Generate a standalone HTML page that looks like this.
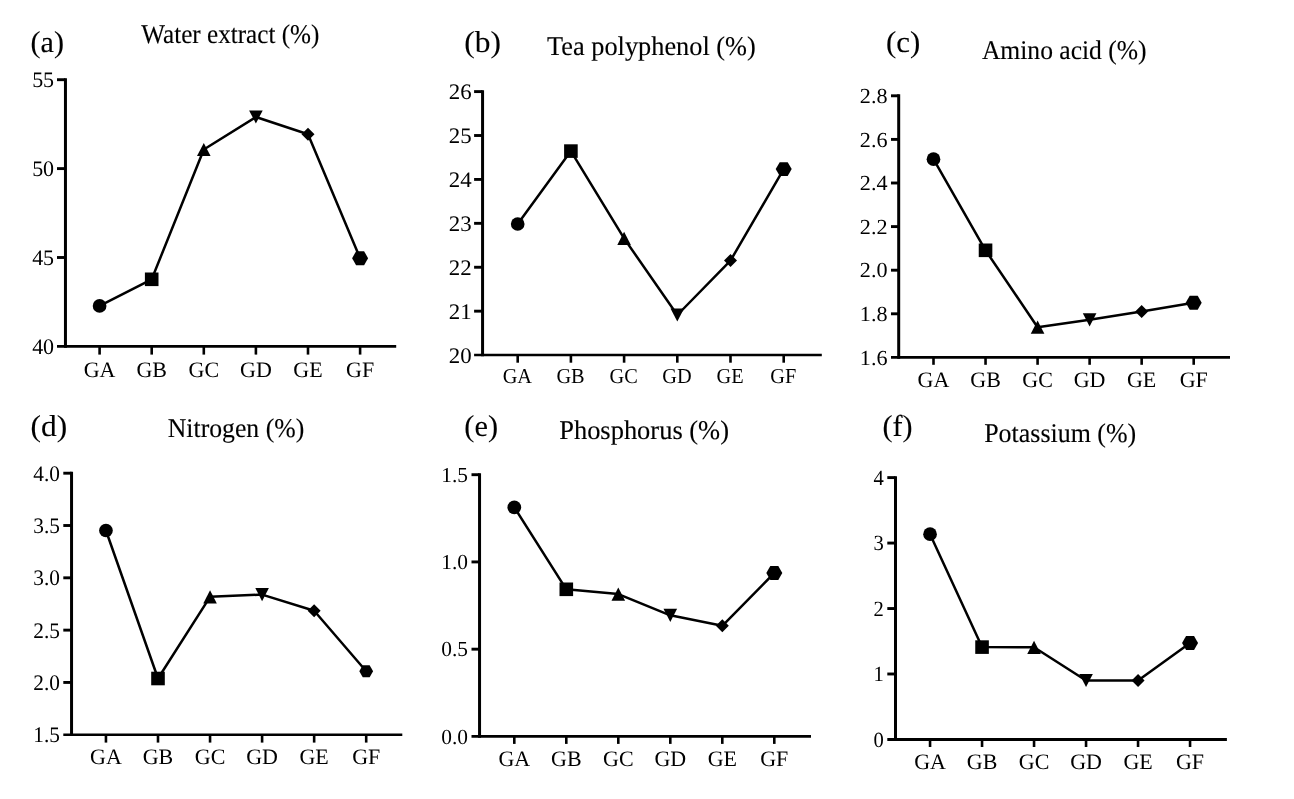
<!DOCTYPE html>
<html lang="en">
<head>
<meta charset="utf-8">
<title>Figure: tea quality components</title>
<style>
html,body{margin:0;padding:0;background:#fff;}
body{width:1294px;height:799px;overflow:hidden;}
svg{display:block;}
text{font-family:"Liberation Serif", "Times New Roman", Times, serif;fill:#000;text-rendering:geometricPrecision;}
.ln{stroke:#000;stroke-width:2.5;fill:none;stroke-linejoin:round;}
.tt,.pl{stroke:#000;stroke-width:0.12px;}
.yl{text-anchor:end;}
.xl{text-anchor:middle;}
</style>
</head>
<body>
<svg width="1294" height="799" viewBox="0 0 1294 799">
<rect width="1294" height="799" fill="#fff"/>
<g id="panel-a">
<path d="M65.46,78.25 V347.86" stroke="#000" stroke-width="3.0" fill="none"/>
<path d="M57,346.4 H396.2" stroke="#000" stroke-width="2.92" fill="none"/>
<text class="yl" transform="translate(54.1,353.9) scale(0.99,1)" font-size="22.2">40</text>
<path d="M57,257.5 H65.46" stroke="#000" stroke-width="2.9" fill="none"/>
<text class="yl" transform="translate(54.1,265) scale(0.99,1)" font-size="22.2">45</text>
<path d="M57,168.6 H65.46" stroke="#000" stroke-width="2.9" fill="none"/>
<text class="yl" transform="translate(54.1,176.1) scale(0.99,1)" font-size="22.2">50</text>
<path d="M57,79.7 H65.46" stroke="#000" stroke-width="2.9" fill="none"/>
<text class="yl" transform="translate(54.1,87.2) scale(0.99,1)" font-size="22.2">55</text>
<path d="M99.6,346.4 V354.6" stroke="#000" stroke-width="2.6" fill="none"/>
<text class="xl" x="99.6" y="377.2" font-size="22.0">GA</text>
<path d="M151.7,346.4 V354.6" stroke="#000" stroke-width="2.6" fill="none"/>
<text class="xl" x="151.7" y="377.2" font-size="22.0">GB</text>
<path d="M203.8,346.4 V354.6" stroke="#000" stroke-width="2.6" fill="none"/>
<text class="xl" x="203.8" y="377.2" font-size="22.0">GC</text>
<path d="M255.9,346.4 V354.6" stroke="#000" stroke-width="2.6" fill="none"/>
<text class="xl" x="255.9" y="377.2" font-size="22.0">GD</text>
<path d="M308,346.4 V354.6" stroke="#000" stroke-width="2.6" fill="none"/>
<text class="xl" x="308" y="377.2" font-size="22.0">GE</text>
<path d="M360.1,346.4 V354.6" stroke="#000" stroke-width="2.6" fill="none"/>
<text class="xl" x="360.1" y="377.2" font-size="22.0">GF</text>
<polyline class="ln" points="99.6,305.9 151.7,279.3 203.8,149.5 255.9,117 308,134.2 360.1,258.2"/>
<circle cx="99.6" cy="305.9" r="6.85"/>
<rect x="144.9" y="272.5" width="13.6" height="13.6"/>
<polygon points="203.8,142.9 210.6,156.1 197,156.1"/>
<polygon points="255.9,123.6 262.7,110.4 249.1,110.4"/>
<polygon points="308,127.7 314.5,134.2 308,140.7 301.5,134.2"/>
<polygon points="368.1,258.2 364.1,265.13 356.1,265.13 352.1,258.2 356.1,251.27 364.1,251.27"/>
<text class="tt" transform="translate(141.33,42.7) scale(0.9312,1)" font-size="27">Water extract (%)</text>
<text class="pl" transform="translate(30.54,51.5) scale(0.995,1)" font-size="30.3">(a)</text>
</g>
<g id="panel-b">
<path d="M482.57,90.15 V356.32" stroke="#000" stroke-width="3.0" fill="none"/>
<path d="M474.1,355.07 H821.8" stroke="#000" stroke-width="2.5" fill="none"/>
<text class="yl" transform="translate(471.6,362.57) scale(1.03,1)" font-size="22.2">20</text>
<path d="M474.1,311.16 H482.57" stroke="#000" stroke-width="2.9" fill="none"/>
<text class="yl" transform="translate(471.6,318.66) scale(1.03,1)" font-size="22.2">21</text>
<path d="M474.1,267.25 H482.57" stroke="#000" stroke-width="2.9" fill="none"/>
<text class="yl" transform="translate(471.6,274.75) scale(1.03,1)" font-size="22.2">22</text>
<path d="M474.1,223.33 H482.57" stroke="#000" stroke-width="2.9" fill="none"/>
<text class="yl" transform="translate(471.6,230.84) scale(1.03,1)" font-size="22.2">23</text>
<path d="M474.1,179.42 H482.57" stroke="#000" stroke-width="2.9" fill="none"/>
<text class="yl" transform="translate(471.6,186.93) scale(1.03,1)" font-size="22.2">24</text>
<path d="M474.1,135.51 H482.57" stroke="#000" stroke-width="2.9" fill="none"/>
<text class="yl" transform="translate(471.6,143.02) scale(1.03,1)" font-size="22.2">25</text>
<path d="M474.1,91.6 H482.57" stroke="#000" stroke-width="2.9" fill="none"/>
<text class="yl" transform="translate(471.6,99.1) scale(1.03,1)" font-size="22.2">26</text>
<path d="M517.7,355.07 V362.7" stroke="#000" stroke-width="2.6" fill="none"/>
<text class="xl" transform="translate(517.3,383.3) scale(0.954,1)" font-size="21.3">GA</text>
<path d="M570.9,355.07 V362.7" stroke="#000" stroke-width="2.6" fill="none"/>
<text class="xl" transform="translate(570.5,383.3) scale(0.954,1)" font-size="21.3">GB</text>
<path d="M624.1,355.07 V362.7" stroke="#000" stroke-width="2.6" fill="none"/>
<text class="xl" transform="translate(623.7,383.3) scale(0.954,1)" font-size="21.3">GC</text>
<path d="M677.3,355.07 V362.7" stroke="#000" stroke-width="2.6" fill="none"/>
<text class="xl" transform="translate(676.9,383.3) scale(0.954,1)" font-size="21.3">GD</text>
<path d="M730.5,355.07 V362.7" stroke="#000" stroke-width="2.6" fill="none"/>
<text class="xl" transform="translate(730.1,383.3) scale(0.954,1)" font-size="21.3">GE</text>
<path d="M783.7,355.07 V362.7" stroke="#000" stroke-width="2.6" fill="none"/>
<text class="xl" transform="translate(783.3,383.3) scale(0.954,1)" font-size="21.3">GF</text>
<polyline class="ln" points="517.7,224 570.9,151.1 624.1,238.4 677.3,315 730.5,260.6 783.7,169.1"/>
<circle cx="517.7" cy="224" r="6.85"/>
<rect x="564.1" y="144.3" width="13.6" height="13.6"/>
<polygon points="624.1,231.8 630.9,245 617.3,245"/>
<polygon points="677.3,321.6 684.1,308.4 670.5,308.4"/>
<polygon points="730.5,254.1 737,260.6 730.5,267.1 724,260.6"/>
<polygon points="791.7,169.1 787.7,176.03 779.7,176.03 775.7,169.1 779.7,162.17 787.7,162.17"/>
<text class="tt" transform="translate(547.12,54.8) scale(0.9747,1)" font-size="27">Tea polyphenol (%)</text>
<text class="pl" transform="translate(464.28,51.5) scale(1.0369,1)" font-size="30.3">(b)</text>
</g>
<g id="panel-c">
<path d="M898.7,94.35 V358.8" stroke="#000" stroke-width="3.0" fill="none"/>
<path d="M891,357.4 H1230" stroke="#000" stroke-width="2.8" fill="none"/>
<text class="yl" transform="translate(887.5,364.67) scale(1.03,1)" font-size="21.5">1.6</text>
<path d="M891,313.8 H898.7" stroke="#000" stroke-width="2.9" fill="none"/>
<text class="yl" transform="translate(887.5,321.07) scale(1.03,1)" font-size="21.5">1.8</text>
<path d="M891,270.2 H898.7" stroke="#000" stroke-width="2.9" fill="none"/>
<text class="yl" transform="translate(887.5,277.47) scale(1.03,1)" font-size="21.5">2.0</text>
<path d="M891,226.6 H898.7" stroke="#000" stroke-width="2.9" fill="none"/>
<text class="yl" transform="translate(887.5,233.87) scale(1.03,1)" font-size="21.5">2.2</text>
<path d="M891,183 H898.7" stroke="#000" stroke-width="2.9" fill="none"/>
<text class="yl" transform="translate(887.5,190.27) scale(1.03,1)" font-size="21.5">2.4</text>
<path d="M891,139.4 H898.7" stroke="#000" stroke-width="2.9" fill="none"/>
<text class="yl" transform="translate(887.5,146.67) scale(1.03,1)" font-size="21.5">2.6</text>
<path d="M891,95.8 H898.7" stroke="#000" stroke-width="2.9" fill="none"/>
<text class="yl" transform="translate(887.5,103.07) scale(1.03,1)" font-size="21.5">2.8</text>
<path d="M933.5,357.4 V364.8" stroke="#000" stroke-width="2.6" fill="none"/>
<text class="xl" x="933.5" y="387.1" font-size="22.0">GA</text>
<path d="M985.54,357.4 V364.8" stroke="#000" stroke-width="2.6" fill="none"/>
<text class="xl" x="985.54" y="387.1" font-size="22.0">GB</text>
<path d="M1037.58,357.4 V364.8" stroke="#000" stroke-width="2.6" fill="none"/>
<text class="xl" x="1037.58" y="387.1" font-size="22.0">GC</text>
<path d="M1089.62,357.4 V364.8" stroke="#000" stroke-width="2.6" fill="none"/>
<text class="xl" x="1089.62" y="387.1" font-size="22.0">GD</text>
<path d="M1141.66,357.4 V364.8" stroke="#000" stroke-width="2.6" fill="none"/>
<text class="xl" x="1141.66" y="387.1" font-size="22.0">GE</text>
<path d="M1193.7,357.4 V364.8" stroke="#000" stroke-width="2.6" fill="none"/>
<text class="xl" x="1193.7" y="387.1" font-size="22.0">GF</text>
<polyline class="ln" points="933.5,159.2 985.54,250.3 1037.58,327.2 1089.62,319.8 1141.66,311.4 1193.7,302.8"/>
<circle cx="933.5" cy="159.2" r="6.85"/>
<rect x="978.74" y="243.5" width="13.6" height="13.6"/>
<polygon points="1037.58,320.6 1044.38,333.8 1030.78,333.8"/>
<polygon points="1089.62,326.4 1096.42,313.2 1082.82,313.2"/>
<polygon points="1141.66,304.9 1148.16,311.4 1141.66,317.9 1135.16,311.4"/>
<polygon points="1201.7,302.8 1197.7,309.73 1189.7,309.73 1185.7,302.8 1189.7,295.87 1197.7,295.87"/>
<text class="tt" transform="translate(981.89,59.2) scale(0.947,1)" font-size="27">Amino acid (%)</text>
<text class="pl" transform="translate(885.91,51.5) scale(1.0209,1)" font-size="30.3">(c)</text>
</g>
<g id="panel-d">
<path d="M71.55,471.75 V736" stroke="#000" stroke-width="3.0" fill="none"/>
<path d="M63.3,734.75 H402.3" stroke="#000" stroke-width="2.5" fill="none"/>
<text class="yl" transform="translate(59.9,742.25) scale(0.96,1)" font-size="22.2">1.5</text>
<path d="M63.3,682.44 H71.55" stroke="#000" stroke-width="2.9" fill="none"/>
<text class="yl" transform="translate(59.9,689.94) scale(0.96,1)" font-size="22.2">2.0</text>
<path d="M63.3,630.13 H71.55" stroke="#000" stroke-width="2.9" fill="none"/>
<text class="yl" transform="translate(59.9,637.63) scale(0.96,1)" font-size="22.2">2.5</text>
<path d="M63.3,577.82 H71.55" stroke="#000" stroke-width="2.9" fill="none"/>
<text class="yl" transform="translate(59.9,585.32) scale(0.96,1)" font-size="22.2">3.0</text>
<path d="M63.3,525.51 H71.55" stroke="#000" stroke-width="2.9" fill="none"/>
<text class="yl" transform="translate(59.9,533.01) scale(0.96,1)" font-size="22.2">3.5</text>
<path d="M63.3,473.2 H71.55" stroke="#000" stroke-width="2.9" fill="none"/>
<text class="yl" transform="translate(59.9,480.7) scale(0.96,1)" font-size="22.2">4.0</text>
<path d="M105.95,734.75 V742.6" stroke="#000" stroke-width="2.6" fill="none"/>
<text class="xl" x="105.95" y="764.3" font-size="22.0">GA</text>
<path d="M158,734.75 V742.6" stroke="#000" stroke-width="2.6" fill="none"/>
<text class="xl" x="158" y="764.3" font-size="22.0">GB</text>
<path d="M210.05,734.75 V742.6" stroke="#000" stroke-width="2.6" fill="none"/>
<text class="xl" x="210.05" y="764.3" font-size="22.0">GC</text>
<path d="M262.1,734.75 V742.6" stroke="#000" stroke-width="2.6" fill="none"/>
<text class="xl" x="262.1" y="764.3" font-size="22.0">GD</text>
<path d="M314.15,734.75 V742.6" stroke="#000" stroke-width="2.6" fill="none"/>
<text class="xl" x="314.15" y="764.3" font-size="22.0">GE</text>
<path d="M366.2,734.75 V742.6" stroke="#000" stroke-width="2.6" fill="none"/>
<text class="xl" x="366.2" y="764.3" font-size="22.0">GF</text>
<polyline class="ln" points="105.95,530.5 158,678.5 210.05,596.8 262.1,594.6 314.15,610.8 366.2,671.2"/>
<circle cx="105.95" cy="530.5" r="6.85"/>
<rect x="151.2" y="671.7" width="13.6" height="13.6"/>
<polygon points="210.05,590.2 216.85,603.4 203.25,603.4"/>
<polygon points="262.1,601.2 268.9,588 255.3,588"/>
<polygon points="314.15,604.3 320.65,610.8 314.15,617.3 307.65,610.8"/>
<polygon points="373.1,671.2 369.65,677.18 362.75,677.18 359.3,671.2 362.75,665.22 369.65,665.22"/>
<text class="tt" transform="translate(167.8,437) scale(0.9525,1)" font-size="27">Nitrogen (%)</text>
<text class="pl" transform="translate(30.48,435.5) scale(1.0369,1)" font-size="30.3">(d)</text>
</g>
<g id="panel-e">
<path d="M479.55,473.25 V737.86" stroke="#000" stroke-width="3.0" fill="none"/>
<path d="M471.5,736.4 H811" stroke="#000" stroke-width="2.92" fill="none"/>
<text class="yl" x="468" y="743.63" font-size="21.4">0.0</text>
<path d="M471.5,649.17 H479.55" stroke="#000" stroke-width="2.9" fill="none"/>
<text class="yl" x="468" y="656.4" font-size="21.4">0.5</text>
<path d="M471.5,561.93 H479.55" stroke="#000" stroke-width="2.9" fill="none"/>
<text class="yl" x="468" y="569.17" font-size="21.4">1.0</text>
<path d="M471.5,474.7 H479.55" stroke="#000" stroke-width="2.9" fill="none"/>
<text class="yl" x="468" y="481.93" font-size="21.4">1.5</text>
<path d="M514.3,736.4 V743.9" stroke="#000" stroke-width="2.6" fill="none"/>
<text class="xl" x="514.3" y="766.3" font-size="22.0">GA</text>
<path d="M566.3,736.4 V743.9" stroke="#000" stroke-width="2.6" fill="none"/>
<text class="xl" x="566.3" y="766.3" font-size="22.0">GB</text>
<path d="M618.3,736.4 V743.9" stroke="#000" stroke-width="2.6" fill="none"/>
<text class="xl" x="618.3" y="766.3" font-size="22.0">GC</text>
<path d="M670.3,736.4 V743.9" stroke="#000" stroke-width="2.6" fill="none"/>
<text class="xl" x="670.3" y="766.3" font-size="22.0">GD</text>
<path d="M722.3,736.4 V743.9" stroke="#000" stroke-width="2.6" fill="none"/>
<text class="xl" x="722.3" y="766.3" font-size="22.0">GE</text>
<path d="M774.3,736.4 V743.9" stroke="#000" stroke-width="2.6" fill="none"/>
<text class="xl" x="774.3" y="766.3" font-size="22.0">GF</text>
<polyline class="ln" points="514.3,507.3 566.3,589.3 618.3,594.1 670.3,615.3 722.3,625.8 774.3,573"/>
<circle cx="514.3" cy="507.3" r="6.85"/>
<rect x="559.5" y="582.5" width="13.6" height="13.6"/>
<polygon points="618.3,587.5 625.1,600.7 611.5,600.7"/>
<polygon points="670.3,621.9 677.1,608.7 663.5,608.7"/>
<polygon points="722.3,619.3 728.8,625.8 722.3,632.3 715.8,625.8"/>
<polygon points="782.3,573 778.3,579.93 770.3,579.93 766.3,573 770.3,566.07 778.3,566.07"/>
<text class="tt" transform="translate(559.18,438.9) scale(0.9801,1)" font-size="27">Phosphorus (%)</text>
<text class="pl" transform="translate(464.33,435.5) scale(1.0015,1)" font-size="30.3">(e)</text>
</g>
<g id="panel-f">
<path d="M895.5,476.15 V740.91" stroke="#000" stroke-width="3.0" fill="none"/>
<path d="M887.3,739.45 H1226.9" stroke="#000" stroke-width="2.92" fill="none"/>
<text class="yl" transform="translate(883.7,746.78) scale(0.95,1)" font-size="21.7">0</text>
<path d="M887.3,673.99 H895.5" stroke="#000" stroke-width="2.9" fill="none"/>
<text class="yl" transform="translate(883.7,681.32) scale(0.95,1)" font-size="21.7">1</text>
<path d="M887.3,608.53 H895.5" stroke="#000" stroke-width="2.9" fill="none"/>
<text class="yl" transform="translate(883.7,615.86) scale(0.95,1)" font-size="21.7">2</text>
<path d="M887.3,543.06 H895.5" stroke="#000" stroke-width="2.9" fill="none"/>
<text class="yl" transform="translate(883.7,550.4) scale(0.95,1)" font-size="21.7">3</text>
<path d="M887.3,477.6 H895.5" stroke="#000" stroke-width="2.9" fill="none"/>
<text class="yl" transform="translate(883.7,484.93) scale(0.95,1)" font-size="21.7">4</text>
<path d="M930.05,739.45 V747" stroke="#000" stroke-width="2.6" fill="none"/>
<text class="xl" x="930.05" y="769.3" font-size="22.0">GA</text>
<path d="M982.05,739.45 V747" stroke="#000" stroke-width="2.6" fill="none"/>
<text class="xl" x="982.05" y="769.3" font-size="22.0">GB</text>
<path d="M1034.05,739.45 V747" stroke="#000" stroke-width="2.6" fill="none"/>
<text class="xl" x="1034.05" y="769.3" font-size="22.0">GC</text>
<path d="M1086.05,739.45 V747" stroke="#000" stroke-width="2.6" fill="none"/>
<text class="xl" x="1086.05" y="769.3" font-size="22.0">GD</text>
<path d="M1138.05,739.45 V747" stroke="#000" stroke-width="2.6" fill="none"/>
<text class="xl" x="1138.05" y="769.3" font-size="22.0">GE</text>
<path d="M1190.05,739.45 V747" stroke="#000" stroke-width="2.6" fill="none"/>
<text class="xl" x="1190.05" y="769.3" font-size="22.0">GF</text>
<polyline class="ln" points="930.05,534.2 982.05,647.1 1034.05,647.3 1086.05,680.5 1138.05,680.6 1190.05,643"/>
<circle cx="930.05" cy="534.2" r="6.85"/>
<rect x="975.25" y="640.3" width="13.6" height="13.6"/>
<polygon points="1034.05,640.7 1040.85,653.9 1027.25,653.9"/>
<polygon points="1086.05,687.1 1092.85,673.9 1079.25,673.9"/>
<polygon points="1138.05,674.1 1144.55,680.6 1138.05,687.1 1131.55,680.6"/>
<polygon points="1198.05,643 1194.05,649.93 1186.05,649.93 1182.05,643 1186.05,636.07 1194.05,636.07"/>
<text class="tt" transform="translate(984.2,441.8) scale(0.9603,1)" font-size="27">Potassium (%)</text>
<text class="pl" transform="translate(882.44,435.5) scale(0.9965,1)" font-size="30.3">(f)</text>
</g>
</svg>
</body>
</html>
